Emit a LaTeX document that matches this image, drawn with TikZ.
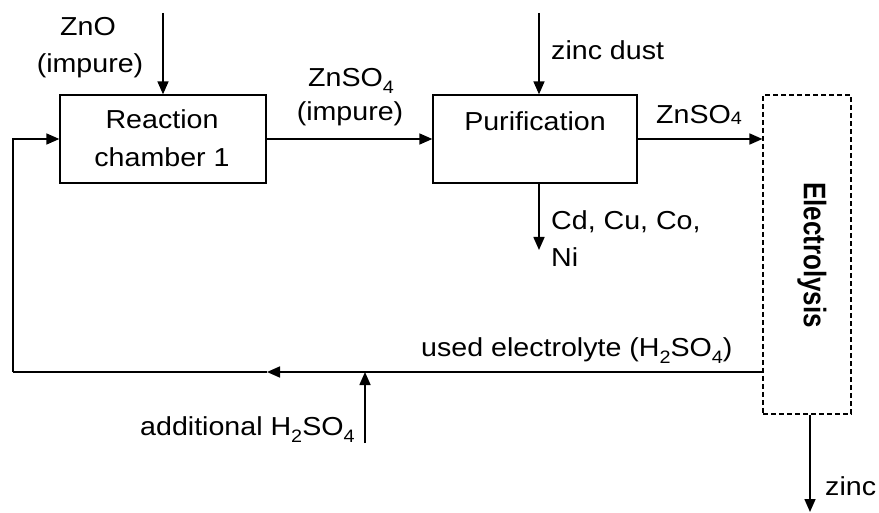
\documentclass[tikz,border=0pt]{standalone}
\usepackage{fontspec}
\setmainfont{Liberation Sans}[FakeStretch=1.1]
\newfontfamily\elfont{Liberation Sans}
\usetikzlibrary{arrows.meta}
\newcommand\chsub[1]{\raisebox{-7pt}{\fontsize{18}{18}\selectfont #1}}
\newcommand\chsubb[1]{\raisebox{-1pt}{\fontsize{18}{18}\selectfont #1}}
\begin{document}
\begin{tikzpicture}[x=1pt,y=-1pt, font=\fontsize{26}{30}\selectfont,
  box/.style={draw, line width=1.3pt, inner sep=0pt},
  lbl/.style={inner sep=0pt, anchor=base},
  lbll/.style={inner sep=0pt, anchor=base west},
  flow/.style={line width=1.6pt, -{Triangle[length=13pt,width=11pt]}},
  plainline/.style={line width=1.6pt}]
\useasboundingbox (0,0) rectangle (879,513);
% boxes
\node[box, minimum width=206pt, minimum height=88pt] (rc) at (163,139) {};
\node[box, minimum width=204pt, minimum height=88pt] (pu) at (535,139) {};
\node[draw, line width=1.1pt, dash pattern=on 5pt off 3pt, inner sep=0pt,
      minimum width=88pt, minimum height=319pt] (el) at (807,254.5) {};
\node[rotate=-90, inner sep=0pt] (elt) at (812,255) {\scalebox{1}[1.2]{\elfont\bfseries Electrolysis}};
% labels
\node[lbl] (rc1) at (162,129) {Reaction};
\node[lbl] (rc2) at (162,167) {chamber 1};
\node[lbl] (pt) at (535,131) {Purification};
\node[lbl] (zno1) at (88,36) {ZnO};
\node[lbl] (zno2) at (90,73) {(impure)};
\node[lbl] (zs1) at (351,87) {ZnSO\chsub{4}};
\node[lbl] (zs2) at (350,121) {(impure)};
\node[lbll] (zd) at (551,60) {zinc dust};
\node[lbll] (zs3) at (656,124) {ZnSO\chsubb{4}};
\node[lbll] (cd1) at (551,230) {Cd, Cu, Co,};
\node[lbll] (cd2) at (551,267) {Ni};
\node[lbll] (ue) at (421,356) {used electrolyte (H\chsub{2}SO\chsub{4})};
\node[lbll] (ad) at (140,435) {additional H\chsub{2}SO\chsub{4}};
\node[lbll] (zc) at (825,495) {zinc};
% connectors
\coordinate (znoS) at (163,13);
\draw[flow] (znoS) -- (rc.north);
\draw[flow] (rc.east) -- (pu.west);
\coordinate (zdS) at (539,13);
\draw[flow] (zdS) -- (zdS |- pu.north);
\coordinate (cdE) at (539,250);
\draw[flow] (cdE |- pu.south) -- (cdE);
\draw[flow] (pu.east) -- (el.west |- pu.east);
\coordinate (yline) at (0,372);
\coordinate (loopR) at (el.west |- yline);
\coordinate (mid) at (267,372);
\coordinate (loopL) at (13,372);
\draw[flow] (loopR) -- (mid);
\draw[plainline] (mid) -- (loopL);
\draw[flow] (loopL) |- (rc.west);
\coordinate (adS) at (365,443);
\coordinate (adE) at (365,372);
\draw[flow] (adS) -- (adE);
\coordinate (zcE) at (810,512);
\draw[flow] (zcE |- el.south) -- (zcE);
\end{tikzpicture}
\end{document}
